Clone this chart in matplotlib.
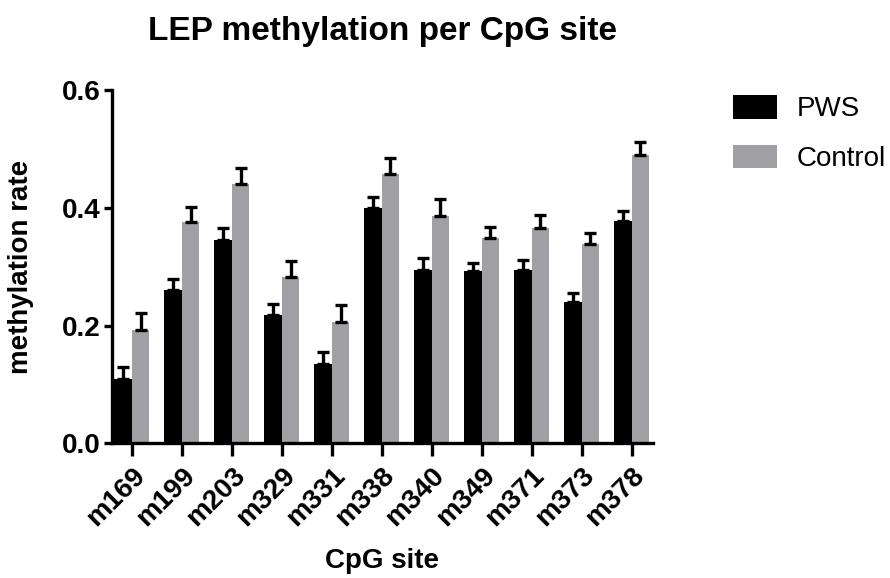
import numpy as np
import matplotlib
matplotlib.use("Agg")
import matplotlib.pyplot as plt

sites = ["m169", "m199", "m203", "m329", "m331", "m338", "m340", "m349", "m371", "m373", "m378"]
pws = [0.110, 0.261, 0.345, 0.218, 0.135, 0.400, 0.294, 0.293, 0.295, 0.240, 0.378]
pws_err = [0.020, 0.018, 0.020, 0.018, 0.020, 0.018, 0.020, 0.013, 0.017, 0.015, 0.016]
control = [0.192, 0.376, 0.440, 0.282, 0.207, 0.458, 0.386, 0.348, 0.365, 0.338, 0.490]
control_err = [0.030, 0.026, 0.027, 0.027, 0.028, 0.026, 0.029, 0.020, 0.023, 0.019, 0.022]

plt.rcParams['font.family'] = ['Liberation Sans', 'DejaVu Sans']

fig = plt.figure(figsize=(8.9, 5.78), dpi=100)
ax = fig.add_axes([0.1258, 0.2327, 0.6079, 0.6116])

x = np.arange(len(sites))
w = 0.35
zeros = np.zeros(len(sites))
err_kw = dict(ecolor="black", elinewidth=2.4, capsize=4, capthick=2.4)
ax.bar(x - w / 2, pws, w, color="black", label="PWS",
       yerr=[zeros, pws_err], error_kw=err_kw)
ax.bar(x + w / 2, control, w, color="#a0a0a4", label="Control",
       yerr=[zeros, control_err], error_kw=err_kw)

ax.set_xlim(-0.4, 10.43)
ax.set_ylim(0, 0.6)
ax.set_yticks([0.0, 0.2, 0.4, 0.6])
ax.set_yticklabels(["0.0", "0.2", "0.4", "0.6"], fontsize=20, fontweight="bold")
ax.set_xticks(x)
ax.set_xticklabels(sites, rotation=45, ha="right", rotation_mode="anchor",
                   fontsize=20, fontweight="bold")

for s in ["top", "right"]:
    ax.spines[s].set_visible(False)
for s in ["left", "bottom"]:
    ax.spines[s].set_linewidth(2.4)
ax.tick_params(axis="x", width=2.4, length=9, pad=5)
ax.tick_params(axis="y", width=2.4, length=6, pad=2)

ax.set_ylabel("methylation rate", fontsize=20, fontweight="bold")
ax.yaxis.set_label_coords(-0.145, 0.5)
ax.set_xlabel("CpG site", fontsize=20, fontweight="bold")
ax.xaxis.set_label_coords(0.5, (443.5 - 561) / 353.5)
ax.xaxis.label.set_va("center")

fig.text(382 / 890, 1 - 40 / 578, "LEP methylation per CpG site",
         fontsize=24, fontweight="bold", ha="center", va="baseline")

ax.legend(loc="upper left", bbox_to_anchor=(733 / 890, 1 - 95 / 578),
          bbox_transform=fig.transFigure, frameon=False, fontsize=20,
          handlelength=1.58, handleheight=0.94, handletextpad=0.72,
          labelspacing=0.8, borderpad=0, borderaxespad=0)

fig.savefig("out.png", dpi=100)
